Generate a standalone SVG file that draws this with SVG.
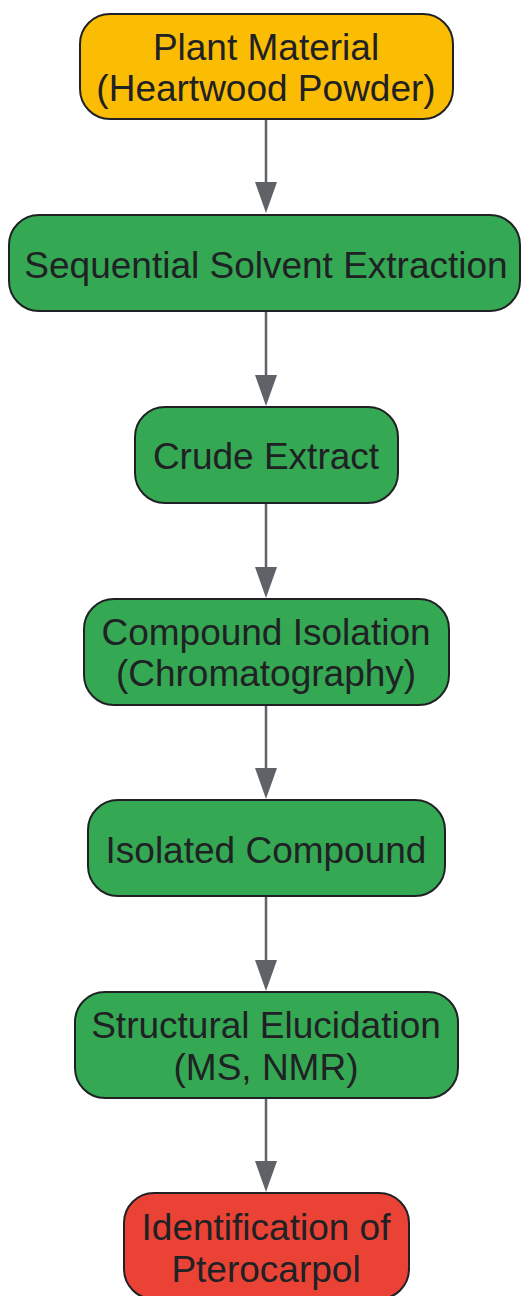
<svg xmlns="http://www.w3.org/2000/svg" width="521" height="1296" viewBox="0 0 521 1296">
<defs>
<style>
.node rect{stroke:#202124;stroke-width:2}
.y rect{fill:#FBBC04}
.g rect{fill:#34A853}
.r rect{fill:#EA4335}
.node text{font-family:"Liberation Sans",Arial,sans-serif;font-size:37px;fill:#202124;text-anchor:middle}
.edge line{stroke:#5f6368;stroke-width:2.5}
.edge polygon{fill:#5f6368}
</style>
</defs>
<rect width="521" height="1296" fill="#ffffff"/>
<g id="connectors" class="edge">
<line x1="266" y1="119" x2="266" y2="184"/><polygon points="255,182 277,182 266,213"/>
<line x1="266" y1="311" x2="266" y2="377"/><polygon points="255,375 277,375 266,406"/>
<line x1="266" y1="503" x2="266" y2="569"/><polygon points="255,567 277,567 266,598"/>
<line x1="266" y1="705" x2="266" y2="770"/><polygon points="255,768 277,768 266,799"/>
<line x1="266" y1="896" x2="266" y2="962"/><polygon points="255,960 277,960 266,991"/>
<line x1="266" y1="1098" x2="266" y2="1163"/><polygon points="255,1161 277,1161 266,1192"/>
</g>
<g id="n1" class="node y"><rect x="80" y="14" width="373" height="105" rx="30"/><text x="266" y="60">Plant Material</text><text x="266" y="101">(Heartwood Powder)</text></g>
<g id="n2" class="node g"><rect x="9" y="215" width="511" height="96" rx="30"/><text x="266" y="278">Sequential Solvent Extraction</text></g>
<g id="n3" class="node g"><rect x="135" y="407" width="263" height="96" rx="30"/><text x="266" y="469">Crude Extract</text></g>
<g id="n4" class="node g"><rect x="84" y="599" width="365" height="106" rx="30"/><text x="266" y="645">Compound Isolation</text><text x="266" y="686">(Chromatography)</text></g>
<g id="n5" class="node g"><rect x="88" y="800" width="357" height="96" rx="30"/><text x="266" y="863">Isolated Compound</text></g>
<g id="n6" class="node g"><rect x="75" y="992" width="383" height="106" rx="30"/><text x="266" y="1038">Structural Elucidation</text><text x="266" y="1080">(MS, NMR)</text></g>
<g id="n7" class="node r"><rect x="124" y="1193" width="285" height="106" rx="30"/><text x="266" y="1240">Identification of</text><text x="266" y="1282">Pterocarpol</text></g>
</svg>
